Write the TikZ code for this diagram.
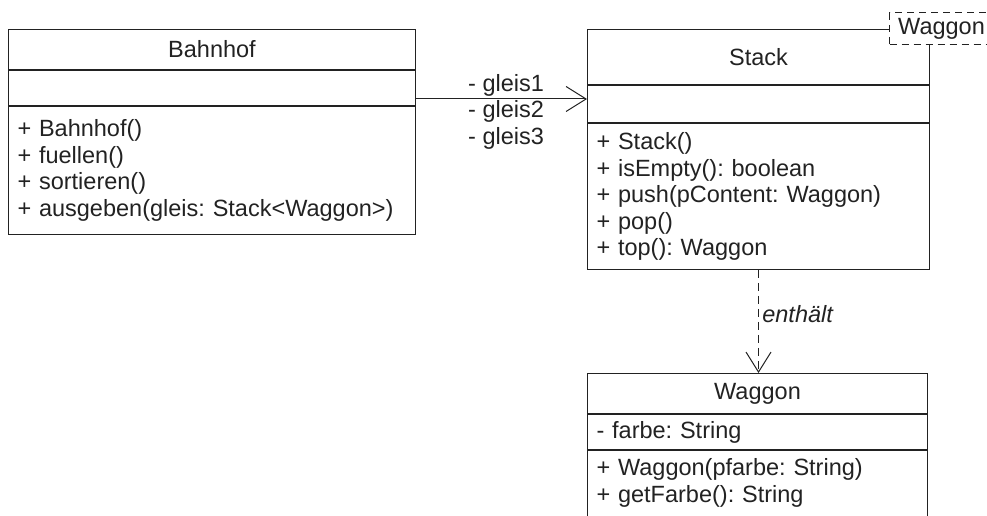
\documentclass[tikz,border=0pt]{standalone}
\usepackage{fontspec}
\setmainfont{Liberation Sans}
\usepackage{tikz}
\frenchspacing
\newcommand{\boxpad}{9pt}
\newcommand{\umlfont}{\fontsize{23.5pt}{26.5pt}\selectfont}
\definecolor{umlGray}{RGB}{34,34,34}
\usetikzlibrary{arrows.meta,calc,positioning}
\tikzset{
  font=\umlfont,
  every node/.append style={text=umlGray},
  head/.style={draw=umlGray,line width=1pt,text width=#1,align=center,inner xsep=\boxpad,inner ysep=3pt},
  part/.style={draw=umlGray,line width=1pt,text width=#1,align=left,inner xsep=\boxpad,inner ysep=3pt},
  param/.style={draw=umlGray,line width=1pt,dash pattern=on 7pt off 5pt,fill=white,minimum width=104pt,minimum height=32pt,inner sep=0pt},
  assoc/.style={draw=umlGray,line width=1pt,-{Straight Barb[length=20pt,width=25pt]}},
  dep/.style={assoc,dash pattern=on 8pt off 5pt},
}

\begin{document}
\begin{tikzpicture}[x=1pt,y=1pt]
  \path[use as bounding box] (0,0) rectangle (987,516);
  % Bahnhof
  \node (bahnhofHead) [head=389pt,minimum height=40pt,anchor=north west] at (8,487) {Bahnhof};
  \node (bahnhofAttr) [part=389pt,minimum height=35pt,below=0pt of bahnhofHead] {};
  \node (bahnhofOps) [part=389pt,minimum height=128pt,below=0pt of bahnhofAttr] {+ Bahnhof()\\+ fuellen()\\+ sortieren()\\+ ausgeben(gleis: Stack<Waggon>)};
  % Stack
  \node (stackHead) [head=324pt,minimum height=55pt,anchor=north west] at (587,487) {Stack};
  \node (stackAttr) [part=324pt,minimum height=37pt,below=0pt of stackHead] {};
  \node (stackOps) [part=324pt,minimum height=146pt,below=0pt of stackAttr] {+ Stack()\\+ isEmpty(): boolean\\+ push(pContent: Waggon)\\+ pop()\\+ top(): Waggon};
  \node (stackParam) [param,anchor=west] at ([xshift=-41pt]stackHead.north east) {Waggon};
  % Waggon
  \node (waggonHead) [head=322pt,minimum height=40pt,below=103pt of stackOps.south west,anchor=north west] {Waggon};
  \node (waggonAttr) [part=322pt,minimum height=35pt,below=0pt of waggonHead] {- farbe: String};
  \node (waggonOps) [part=322pt,inner ysep=8pt,below=0pt of waggonAttr] {\parbox[c][70pt][t]{322pt}{+ Waggon(pfarbe: String)\\+ getFarbe(): String}};
  % Verbindungen
  \coordinate (gleisStart) at ([yshift=-11pt]bahnhofAttr.east);
  \path [assoc] (gleisStart) -- (gleisStart -| stackAttr.west);
  \node (gleise) [anchor=north west,inner sep=0pt,align=left] at ([xshift=52pt,yshift=25pt]gleisStart) {- gleis1\\- gleis2\\- gleis3};
  \path [dep] (stackOps.south) -- (stackOps.south |- waggonHead.north) node (enthaelt) [pos=0.43,right,font=\umlfont\itshape] {enthält};
\end{tikzpicture}
\end{document}
